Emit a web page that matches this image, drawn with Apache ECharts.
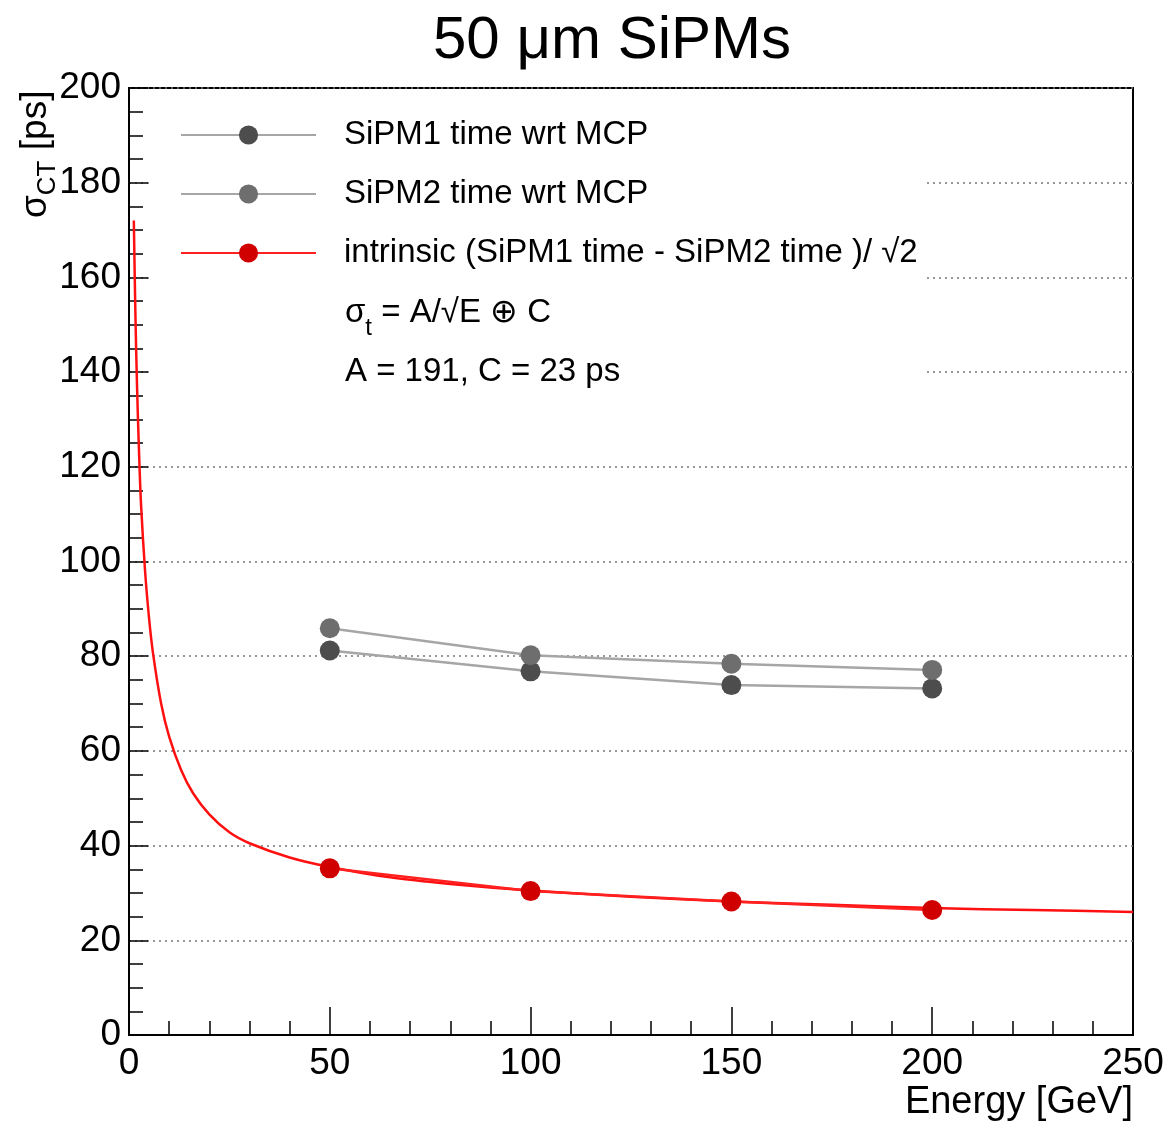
<!DOCTYPE html>
<html><head><meta charset="utf-8">
<script src="https://cdn.jsdelivr.net/npm/echarts@6/dist/echarts.min.js"></script>
<style>html,body{margin:0;padding:0;background:#fff}#c{width:1164px;height:1121px}</style>
</head><body><div id="c"></div>
<script>
// ---- data ----
const energy = [50, 100, 150, 200];
const sipm1 = [81.2, 76.8, 73.9, 73.2];
const sipm2 = [85.9, 80.2, 78.4, 77.1];
const intrinsic = [35.2, 30.4, 28.2, 26.4];
// fitted curve
const fitEnergy = [1.2, 1.6, 2, 2.5, 3, 4, 5, 6, 8, 10, 13, 16, 20, 25, 30, 40, 50, 65, 80, 100, 125, 150, 175, 200, 225, 250];
const fitSigma  = [172, 152, 137, 123, 112, 98, 88, 80.5, 70, 63, 55.9, 51, 46.6, 42.8, 40.5, 37.5, 35.5, 33.3, 31.9, 30.5, 29.2, 28.2, 27.5, 26.8, 26.4, 26.0];
const seriesNames = ['SiPM1 time wrt MCP', 'SiPM2 time wrt MCP', 'intrinsic (SiPM1 time - SiPM2 time )/ \u221a2'];
const xRange = [0, 250, 50];
const yRange = [0, 200, 20];

const FONT = '"Liberation Sans", Arial, Helvetica, sans-serif';
const chart = echarts.init(document.getElementById('c'), null, {renderer: 'canvas'});
const pairs = (xs, ys) => xs.map((x, i) => [x, ys[i]]);

chart.setOption({
  backgroundColor: '#fff',
  animation: false,
  textStyle: {fontFamily: FONT},
  title: {
    text: '50 \u03bcm SiPMs', left: 428, top: 6,
    textStyle: {fontSize: 60, fontWeight: 'normal', color: '#000', fontFamily: FONT}
  },
  grid: {left: 129, right: 31, top: 88, bottom: 86, outerBoundsMode: 'none', containLabel: false,
    show: true, borderColor: '#000', borderWidth: 2, backgroundColor: 'transparent'},
  legend: {
    orient: 'vertical', left: 175, top: 112,
    itemWidth: 135, itemHeight: 24, itemGap: 23,
    data: seriesNames,
    textStyle: {fontSize: 33, color: '#000', fontFamily: FONT, lineHeight: 36, padding: [0, 0, 0, 23]}
  },
  graphic: [
    {type: 'rect', z: 1, silent: true, shape: {x: 150, y: 90, width: 777, height: 318}, style: {fill: '#fff'}},
    {type: 'text', z: 5, left: 345, top: 296, style: {
      text: '{m|\u03c3}{s|t}{m| = A/\u221aE \u2295 C}',
      rich: {
        m: {fontSize: 33, fontFamily: FONT, fill: '#000', lineHeight: 56, verticalAlign: 'middle'},
        s: {fontSize: 24, fontFamily: FONT, fill: '#000', lineHeight: 56, verticalAlign: 'bottom'}
      }}},
    {type: 'text', z: 5, left: 345, top: 355, style: {
      text: 'A = 191, C = 23 ps', fontSize: 33, fontFamily: FONT, fill: '#000'}}
  ],
  xAxis: {
    type: 'value', min: xRange[0], max: xRange[1], interval: xRange[2],
    name: 'Energy [GeV]', nameLocation: 'end', nameGap: 0, nameMoveOverlap: false,
    nameTextStyle: {fontSize: 38, color: '#000', fontFamily: FONT, align: 'right', verticalAlign: 'top', padding: [49, 0, 0, 0]},
    axisLine: {lineStyle: {color: '#000', width: 2}},
    axisTick: {inside: true, length: 28, lineStyle: {color: '#000', width: 1.5}},
    minorTick: {show: true, splitNumber: 5, length: 14, lineStyle: {color: '#000', width: 1.5}},
    axisLabel: {fontSize: 37, color: '#000', fontFamily: FONT, margin: 10},
    splitLine: {show: false}
  },
  yAxis: {
    type: 'value', min: yRange[0], max: yRange[1], interval: yRange[2],
    name: '{m|\u03c3}{s|CT}{m| [ps]}', nameLocation: 'end', nameGap: -130, nameRotate: 90, nameMoveOverlap: false,
    nameTextStyle: {verticalAlign: 'bottom', padding: [0, 0, 68, 0],
      rich: {
        m: {fontSize: 37, fontFamily: FONT, color: '#000', lineHeight: 50, verticalAlign: 'middle'},
        s: {fontSize: 26, fontFamily: FONT, color: '#000', lineHeight: 50, verticalAlign: 'bottom'}
      }},
    axisLine: {lineStyle: {color: '#000', width: 2}},
    axisTick: {inside: true, length: 19, lineStyle: {color: '#000', width: 1.5}},
    minorTick: {show: true, splitNumber: 4, length: 14, lineStyle: {color: '#000', width: 1.5}},
    axisLabel: {fontSize: 37, color: '#000', fontFamily: FONT, margin: 8},
    splitLine: {show: true, lineStyle: {color: '#777', width: 1.5, type: [2, 4]}}
  },
  series: [
    {name: 'fit', type: 'line', data: pairs(fitEnergy, fitSigma), showSymbol: false, symbol: 'none',
      smooth: 0.3, z: 3, lineStyle: {color: '#ff1010', width: 2.5}},
    {name: seriesNames[0], type: 'line', data: pairs(energy, sipm1), symbol: 'circle', symbolSize: 20, z: 4,
      itemStyle: {color: '#4d4d4d'}, lineStyle: {color: '#a6a6a6', width: 2.5}},
    {name: seriesNames[1], type: 'line', data: pairs(energy, sipm2), symbol: 'circle', symbolSize: 20, z: 4,
      itemStyle: {color: '#6e6e6e'}, lineStyle: {color: '#a6a6a6', width: 2.5}},
    {name: seriesNames[2], type: 'line', data: pairs(energy, intrinsic), symbol: 'circle', symbolSize: 20, z: 4,
      itemStyle: {color: '#d00000'}, lineStyle: {color: '#ff2020', width: 2.5}}
  ]
});
</script></body></html>
